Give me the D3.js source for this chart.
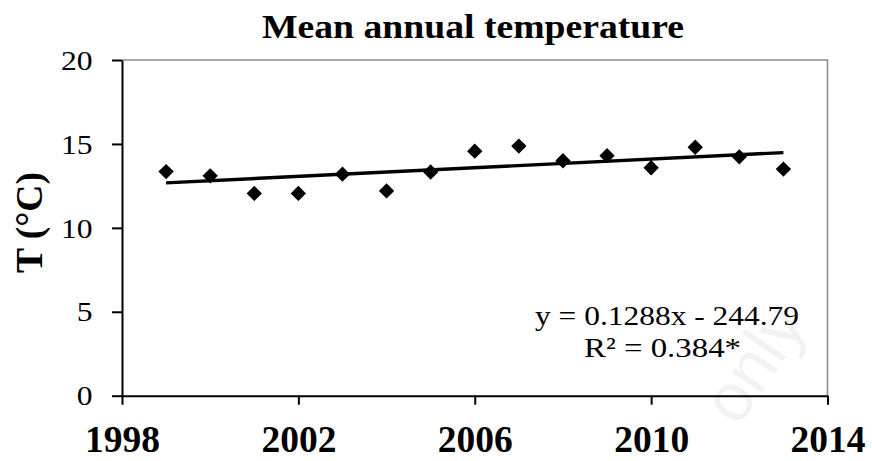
<!DOCTYPE html>
<html>
<head>
<meta charset="utf-8">
<script src="https://cdn.jsdelivr.net/npm/d3@7"></script>
<style>
html,body{margin:0;padding:0;background:#fff;}
svg{display:block;}
text{font-family:"Liberation Serif","Times New Roman",serif;fill:#000;}
</style>
</head>
<body>
<svg id="chart" width="872" height="461"></svg>
<script>
// ---- data ----
const years = [1999,2000,2001,2002,2003,2004,2005,2006,2007,2008,2009,2010,2011,2012,2013];
const temps = [13.35,13.1,12.05,12.05,13.2,12.2,13.33,14.57,14.87,14.0,14.3,13.58,14.8,14.23,13.5];
const xTicks = [1998,2002,2006,2010,2014];
const yTicks = [0,5,10,15,20];
const trendSlope = 0.1288;
const trendIntercept = -244.79;
const titleText = "Mean annual temperature";
const yLabel = "T (°C)";
const eqText = "y = 0.1288x - 244.79";
const r2Text = "R² = 0.384*";

const svg = d3.select("#chart");
const L = 122, R = 827.5, T = 60, B = 395.7;

const x = d3.scaleLinear().domain([1998,2014]).range([L,R]);
const y = d3.scaleLinear().domain([0,20]).range([B,T]);

// faint watermark
svg.append("text")
  .attr("transform","translate(738,428) rotate(-56)")
  .style("font-family","'Liberation Sans',Arial,sans-serif")
  .style("font-size","68px")
  .style("fill","#f2f2f2")
  .text("only");

// top & right border (gray)
svg.append("path")
  .attr("d",`M${L},${T}H${R}V${B}`)
  .attr("fill","none").attr("stroke","#8c8c8c").attr("stroke-width",1.6);

// y axis
const gy = svg.append("g").attr("transform",`translate(${L},0)`)
  .call(d3.axisLeft(y).tickValues(yTicks).tickSize(10).tickSizeOuter(0).tickPadding(19.5).tickFormat(d3.format("d")));
gy.select(".domain").attr("stroke","#000").attr("stroke-width",2);
gy.selectAll(".tick line").attr("stroke","#000").attr("stroke-width",2);
gy.selectAll(".tick text")
  .style("font-family","'Liberation Serif','Times New Roman',serif")
  .style("font-size","27px")
  .attr("dy","0.34em")
  .attr("textLength",d => String(d).length*15.8)
  .attr("lengthAdjust","spacingAndGlyphs");

// x axis
const gx = svg.append("g").attr("transform",`translate(0,${B})`)
  .call(d3.axisBottom(x).tickValues(xTicks).tickSize(9).tickSizeOuter(0).tickFormat(d3.format("d")));
gx.select(".domain").attr("stroke","#000").attr("stroke-width",2);
gx.selectAll(".tick line").attr("stroke","#000").attr("stroke-width",2);
gx.selectAll(".tick text")
  .style("font-family","'Liberation Serif','Times New Roman',serif")
  .style("font-size","37px")
  .style("font-weight","bold")
  .attr("y",56.3).attr("dy","0")
  .attr("textLength",75)
  .attr("lengthAdjust","spacingAndGlyphs");

// trend line
const tl = d3.line().x(d=>x(d)).y(d=>y(trendSlope*d+trendIntercept));
svg.append("path")
  .datum([years[0],years[years.length-1]])
  .attr("d",tl)
  .attr("fill","none").attr("stroke","#000").attr("stroke-width",3.4);

// markers (diamonds)
const sym = d3.symbol().type(d3.symbolSquare).size(118);
svg.append("g").selectAll("path")
  .data(years.map((yr,i)=>({yr,t:temps[i]})))
  .join("path")
  .attr("d",sym)
  .attr("transform",d=>`translate(${x(d.yr)},${y(d.t)}) rotate(45)`)
  .attr("fill","#000");

// title
svg.append("text")
  .attr("x",473).attr("y",37.5)
  .attr("text-anchor","middle")
  .style("font-size","34px").style("font-weight","bold")
  .attr("textLength",422).attr("lengthAdjust","spacingAndGlyphs")
  .text(titleText);

// y label
svg.append("text")
  .attr("transform","translate(42,222.5) rotate(-90)")
  .attr("text-anchor","middle")
  .style("font-size","37px").style("font-weight","bold")
  .attr("textLength",101).attr("lengthAdjust","spacingAndGlyphs")
  .text(yLabel);

// equation
svg.append("text")
  .attr("x",535).attr("y",325)
  .style("font-size","28px")
  .attr("textLength",264).attr("lengthAdjust","spacingAndGlyphs")
  .text(eqText);
svg.append("text")
  .attr("x",584).attr("y",357)
  .style("font-size","28px")
  .attr("textLength",157).attr("lengthAdjust","spacingAndGlyphs")
  .text(r2Text);
</script>
</body>
</html>
